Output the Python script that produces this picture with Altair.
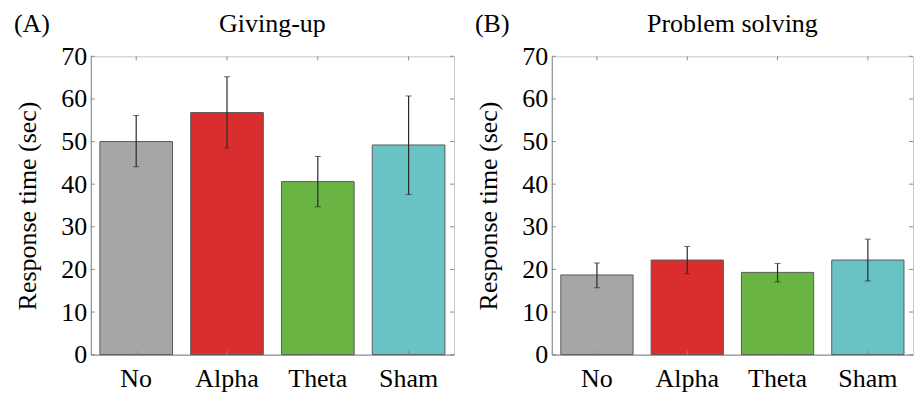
import altair as alt
import pandas as pd

categories = ["No", "Alpha", "Theta", "Sham"]
bar_colors = ["#a6a6a6", "#d92d2e", "#69b443", "#69c2c4"]

giving_mean = [50.0, 56.8, 40.6, 49.2]
giving_lo = [44.1, 48.5, 34.7, 37.6]
giving_hi = [56.1, 65.2, 46.5, 60.7]

solving_mean = [18.7, 22.2, 19.3, 22.2]
solving_lo = [15.7, 19.0, 17.1, 17.3]
solving_hi = [21.5, 25.4, 21.4, 27.1]

panel_labels = ["(A)", "(B)"]
panel_titles = ["Giving-up", "Problem solving"]
y_ticks = [0, 10, 20, 30, 40, 50, 60, 70]
y_title = "Response time (sec)"

FONT = "Liberation Serif"
H = 299
FS = 26

XAXIS = alt.Axis(title=None, ticks=False, domain=True, domainColor="#8a8a8a",
                 labelAngle=0, labelFont=FONT, labelFontSize=FS,
                 labelColor="black", labelPadding=11)
YAXIS = alt.Axis(values=y_ticks, title=y_title, ticks=False, grid=False,
                 domain=True, domainColor="#8a8a8a",
                 labelFont=FONT, labelFontSize=FS, labelColor="black",
                 labelPadding=4, titleFont=FONT, titleFontSize=FS,
                 titleFontWeight="normal", titleColor="black",
                 titlePadding=20)


def panel(mean, lo, hi, label, title, W):
    df = pd.DataFrame({"cat": categories, "mean": mean, "lo": lo, "hi": hi})
    xscale = alt.Scale(domain=categories, paddingInner=0.2, paddingOuter=0.1)
    yscale = alt.Scale(domain=[0, 70], nice=False, zero=True)
    xs = alt.X("cat:N", sort=categories, scale=xscale, axis=XAXIS)

    def ys(f):
        return alt.Y(f, scale=yscale, axis=YAXIS)

    bars = alt.Chart(df).mark_bar(stroke="#5a5a5a", strokeWidth=1).encode(
        x=xs, y=ys("mean:Q"),
        color=alt.Color("cat:N", sort=categories,
                        scale=alt.Scale(domain=categories, range=bar_colors), legend=None),
    )

    stems = alt.Chart(df).mark_rule(color="#2a2a2a", strokeWidth=1.2).encode(
        x=xs, y=ys("lo:Q"), y2="hi:Q")
    cap_lo = alt.Chart(df).mark_tick(color="#2a2a2a", thickness=1, size=6,
                                     orient="horizontal").encode(x=xs, y=ys("lo:Q"))
    cap_hi = alt.Chart(df).mark_tick(color="#2a2a2a", thickness=1, size=6,
                                     orient="horizontal").encode(x=xs, y=ys("hi:Q"))

    tdf = pd.DataFrame({"v": y_ticks})
    ytick_l = alt.Chart(tdf).mark_rule(color="#8a8a8a", strokeWidth=1).encode(
        y=ys("v:Q"), x=alt.value(0), x2=alt.value(4))
    ytick_r = alt.Chart(tdf).mark_rule(color="#8a8a8a", strokeWidth=1).encode(
        y=ys("v:Q"), x=alt.value(W - 4), x2=alt.value(W))
    cdf = pd.DataFrame({"cat": categories})
    xtick_t = alt.Chart(cdf).mark_rule(color="#8a8a8a", strokeWidth=1).encode(
        x=xs, y=alt.value(0), y2=alt.value(4))
    xtick_b = alt.Chart(cdf).mark_rule(color="#8a8a8a", strokeWidth=1).encode(
        x=xs, y=alt.value(H - 4), y2=alt.value(H))

    ldf = pd.DataFrame({"t": [label]})
    lab = alt.Chart(ldf).mark_text(font=FONT, fontSize=FS, align="left",
                                   baseline="alphabetic", color="black").encode(
        text="t:N", x=alt.value(-77), y=alt.value(-24))
    hdf = pd.DataFrame({"t": [title]})
    ttl = alt.Chart(hdf).mark_text(font=FONT, fontSize=FS, align="center",
                                   baseline="alphabetic", color="black").encode(
        text="t:N", x=alt.value(W / 2), y=alt.value(-24))

    return alt.layer(bars, stems, cap_lo, cap_hi, ytick_l, ytick_r, xtick_t, xtick_b,
                     lab, ttl).properties(width=W, height=H)


pA = panel(giving_mean, giving_lo, giving_hi, panel_labels[0], panel_titles[0], 364)
pB = panel(solving_mean, solving_lo, solving_hi, panel_labels[1], panel_titles[1], 362)

chart = alt.hconcat(pA, pB, spacing=19).properties(
    padding={"left": 13, "top": 10, "right": 0, "bottom": 0}
).configure(
    background="white", font=FONT
).configure_axis(
    labelFont=FONT, titleFont=FONT
).configure_text(
    font=FONT
).configure_view(stroke="#c8c8c8", strokeWidth=1)

chart.save("out.html", embed_options={"renderer": "svg", "actions": False})
